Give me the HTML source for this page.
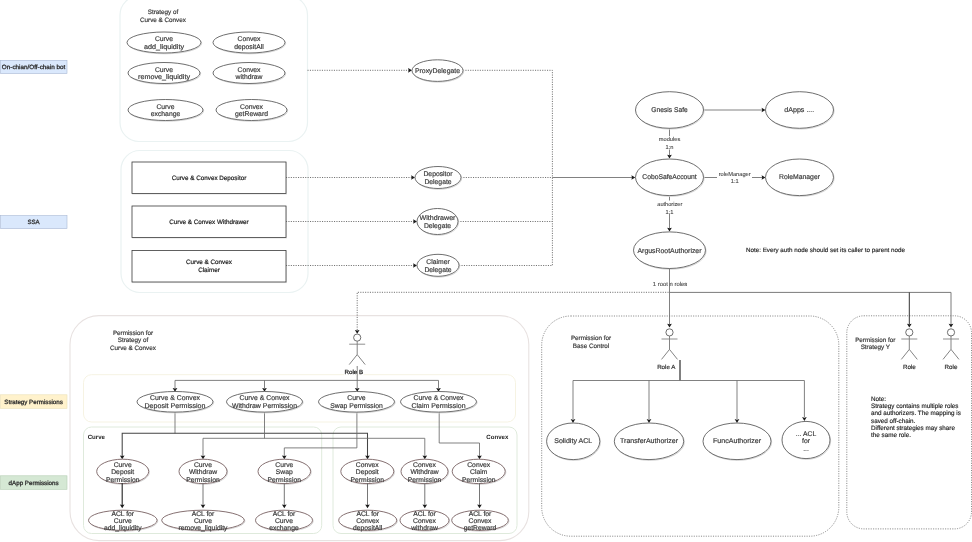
<!DOCTYPE html>
<html><head><meta charset="utf-8"><title>Diagram</title>
<style>
html,body{margin:0;padding:0;background:#fff;}
body{width:972px;height:542px;overflow:hidden;}
#wrap{width:972px;height:542px;will-change:transform;}
svg{display:block;font-family:"Liberation Sans",sans-serif;text-rendering:geometricPrecision;filter:blur(0.3px);}
</style></head><body>
<div id="wrap">
<svg width="972" height="542" viewBox="0 0 972 542">
<rect x="0.5" y="60.3" width="66.5" height="13.2" fill="#dae8fc" stroke="#a9b8d4" stroke-width="0.6"/>
<text x="33.6" y="69.1" font-size="6.1" text-anchor="middle" fill="#2c2c2c" textLength="63.5" lengthAdjust="spacingAndGlyphs" stroke="#2c2c2c" stroke-width="0.28">On-chian/Off-chain bot</text>
<rect x="0.5" y="215.6" width="66.5" height="13" fill="#dae8fc" stroke="#a9b8d4" stroke-width="0.6"/>
<text x="33.6" y="224.29999999999998" font-size="6.1" text-anchor="middle" fill="#2c2c2c" stroke="#2c2c2c" stroke-width="0.28">SSA</text>
<rect x="0.5" y="394.8" width="66.5" height="13.5" fill="#fff2cc" stroke="#ece0b4" stroke-width="0.6"/>
<text x="33.6" y="403.75" font-size="6.1" text-anchor="middle" fill="#2c2c2c" textLength="58.5" lengthAdjust="spacingAndGlyphs" stroke="#2c2c2c" stroke-width="0.28">Strategy Permissions</text>
<rect x="0.5" y="475.8" width="66.5" height="13.5" fill="#d5e8d4" stroke="#b4cdb2" stroke-width="0.6"/>
<text x="33.6" y="484.75" font-size="6.1" text-anchor="middle" fill="#2c2c2c" textLength="50" lengthAdjust="spacingAndGlyphs" stroke="#2c2c2c" stroke-width="0.28">dApp Permissions</text>
<rect x="120" y="-4" width="187.5" height="145.5" rx="19" ry="19" fill="none" stroke="#eaf2f2" stroke-width="1.2"/>
<rect x="121" y="150.5" width="187" height="142" rx="19" ry="19" fill="none" stroke="#eaf2f2" stroke-width="1.2"/>
<rect x="70" y="315.6" width="458.8" height="225" rx="29" ry="29" fill="none" stroke="#e8e2e1" stroke-width="1.1"/>
<rect x="83.5" y="374.7" width="432" height="47.3" rx="8" ry="8" fill="none" stroke="#f6f3e3" stroke-width="1"/>
<rect x="83.5" y="427" width="238.2" height="106.5" rx="8" ry="8" fill="none" stroke="#dfeadc" stroke-width="1"/>
<rect x="333" y="427" width="184" height="106.5" rx="8" ry="8" fill="none" stroke="#dfeadc" stroke-width="1"/>
<rect x="541.7" y="316.0" width="297.1" height="220.2" rx="29" ry="29" fill="none" stroke="#767676" stroke-width="0.85" stroke-dasharray="1.1 1.3"/>
<rect x="846.8" y="315.8" width="124.7" height="213.1" rx="17" ry="17" fill="none" stroke="#767676" stroke-width="0.85" stroke-dasharray="1.1 1.3"/>
<text x="163" y="14.31" font-size="6.3" text-anchor="middle" fill="#383838" stroke="#383838" stroke-width="0.18">Strategy  of</text>
<text x="163" y="21.71" font-size="6.3" text-anchor="middle" fill="#383838" stroke="#383838" stroke-width="0.18">Curve &amp; Convex</text>
<ellipse cx="164.7" cy="43.3" rx="37" ry="10.5" fill="none" stroke="#d6d6d6" stroke-width="1"/>
<ellipse cx="164" cy="42.5" rx="37" ry="10.5" fill="#fff" stroke="#555555" stroke-width="0.85"/>
<text x="164" y="41.38" font-size="6.8" text-anchor="middle" fill="#383838" stroke="#383838" stroke-width="0.18">Curve</text>
<text x="164" y="48.68" font-size="6.8" text-anchor="middle" fill="#383838" textLength="40" lengthAdjust="spacingAndGlyphs" stroke="#383838" stroke-width="0.18">add_liquidity</text>
<ellipse cx="249.7" cy="43.3" rx="36" ry="10.5" fill="none" stroke="#d6d6d6" stroke-width="1"/>
<ellipse cx="249" cy="42.5" rx="36" ry="10.5" fill="#fff" stroke="#555555" stroke-width="0.85"/>
<text x="249" y="41.38" font-size="6.8" text-anchor="middle" fill="#383838" stroke="#383838" stroke-width="0.18">Convex</text>
<text x="249" y="48.68" font-size="6.8" text-anchor="middle" fill="#383838" stroke="#383838" stroke-width="0.18">depositAll</text>
<ellipse cx="164.7" cy="73.8" rx="36" ry="10.5" fill="none" stroke="#d6d6d6" stroke-width="1"/>
<ellipse cx="164" cy="73" rx="36" ry="10.5" fill="#fff" stroke="#555555" stroke-width="0.85"/>
<text x="164" y="71.88" font-size="6.8" text-anchor="middle" fill="#383838" stroke="#383838" stroke-width="0.18">Curve</text>
<text x="164" y="79.18" font-size="6.8" text-anchor="middle" fill="#383838" textLength="52" lengthAdjust="spacingAndGlyphs" stroke="#383838" stroke-width="0.18">remove_liquidity</text>
<ellipse cx="249.7" cy="73.8" rx="36" ry="10.5" fill="none" stroke="#d6d6d6" stroke-width="1"/>
<ellipse cx="249" cy="73" rx="36" ry="10.5" fill="#fff" stroke="#555555" stroke-width="0.85"/>
<text x="249" y="71.88" font-size="6.8" text-anchor="middle" fill="#383838" stroke="#383838" stroke-width="0.18">Convex</text>
<text x="249" y="79.18" font-size="6.8" text-anchor="middle" fill="#383838" stroke="#383838" stroke-width="0.18">withdraw</text>
<ellipse cx="166.2" cy="110.8" rx="37.5" ry="10.5" fill="none" stroke="#d6d6d6" stroke-width="1"/>
<ellipse cx="165.5" cy="110" rx="37.5" ry="10.5" fill="#fff" stroke="#555555" stroke-width="0.85"/>
<text x="165.5" y="108.88" font-size="6.8" text-anchor="middle" fill="#383838" stroke="#383838" stroke-width="0.18">Curve</text>
<text x="165.5" y="116.18" font-size="6.8" text-anchor="middle" fill="#383838" stroke="#383838" stroke-width="0.18">exchange</text>
<ellipse cx="252.2" cy="110.8" rx="35.5" ry="10.5" fill="none" stroke="#d6d6d6" stroke-width="1"/>
<ellipse cx="251.5" cy="110" rx="35.5" ry="10.5" fill="#fff" stroke="#555555" stroke-width="0.85"/>
<text x="251.5" y="108.88" font-size="6.8" text-anchor="middle" fill="#383838" stroke="#383838" stroke-width="0.18">Convex</text>
<text x="251.5" y="116.18" font-size="6.8" text-anchor="middle" fill="#383838" stroke="#383838" stroke-width="0.18">getReward</text>
<rect x="132.6" y="162.7" width="154" height="31.5" fill="none" stroke="#e4e4e4" stroke-width="0.8"/>
<rect x="132" y="162" width="154" height="31.5" fill="#fff" stroke="#3a3a3a" stroke-width="0.8"/>
<text x="209" y="179.51" font-size="6.3" text-anchor="middle" fill="#222" stroke="#222" stroke-width="0.2">Curve &amp; Convex Depositor</text>
<rect x="132.6" y="206.7" width="154" height="31.5" fill="none" stroke="#e4e4e4" stroke-width="0.8"/>
<rect x="132" y="206" width="154" height="31.5" fill="#fff" stroke="#3a3a3a" stroke-width="0.8"/>
<text x="209" y="223.51" font-size="6.3" text-anchor="middle" fill="#222" stroke="#222" stroke-width="0.2">Curve &amp; Convex Withdrawer</text>
<rect x="132.6" y="251.2" width="154" height="31.5" fill="none" stroke="#e4e4e4" stroke-width="0.8"/>
<rect x="132" y="250.5" width="154" height="31.5" fill="#fff" stroke="#3a3a3a" stroke-width="0.8"/>
<text x="209" y="264.31" font-size="6.3" text-anchor="middle" fill="#222" stroke="#222" stroke-width="0.2">Curve &amp; Convex</text>
<text x="209" y="271.7" font-size="6.3" text-anchor="middle" fill="#222" stroke="#222" stroke-width="0.2">Claimer</text>
<path d="M307.5 70.3 L410 70.3" fill="none" stroke="#5a5a5a" stroke-width="0.85" stroke-dasharray="1.1 1.3"/>
<polygon points="412,70.3 408.1,67.96 408.646,70.3 408.1,72.64" fill="#1a1a1a"/>
<path d="M286 177.5 L413 177.5" fill="none" stroke="#5a5a5a" stroke-width="0.85" stroke-dasharray="1.1 1.3"/>
<polygon points="415,177.5 411.1,175.16 411.646,177.5 411.1,179.84" fill="#1a1a1a"/>
<path d="M286 221.5 L415 221.5" fill="none" stroke="#5a5a5a" stroke-width="0.85" stroke-dasharray="1.1 1.3"/>
<polygon points="417,221.5 413.1,219.16 413.646,221.5 413.1,223.84" fill="#1a1a1a"/>
<path d="M286 265.5 L415 265.5" fill="none" stroke="#5a5a5a" stroke-width="0.85" stroke-dasharray="1.1 1.3"/>
<polygon points="417,265.5 413.1,263.16 413.646,265.5 413.1,267.84" fill="#1a1a1a"/>
<path d="M463 70.3 L552.4 70.3 L552.4 265.5 L459 265.5" fill="none" stroke="#5a5a5a" stroke-width="0.85" stroke-dasharray="1.1 1.3"/>
<path d="M461 177.5 L552 177.5" fill="none" stroke="#5a5a5a" stroke-width="0.85" stroke-dasharray="1.1 1.3"/>
<path d="M458 221.5 L552 221.5" fill="none" stroke="#5a5a5a" stroke-width="0.85" stroke-dasharray="1.1 1.3"/>
<path d="M552.3 177.5 L632 177.5" fill="none" stroke="#6a6a6a" stroke-width="0.85"/>
<polygon points="635.3,177.5 631.4,175.16 631.9459999999999,177.5 631.4,179.84" fill="#1a1a1a"/>
<ellipse cx="438.2" cy="71.39999999999999" rx="25.5" ry="10.8" fill="none" stroke="#d6d6d6" stroke-width="1"/>
<ellipse cx="437.5" cy="70.6" rx="25.5" ry="10.8" fill="#fff" stroke="#555555" stroke-width="0.85"/>
<text x="437.5" y="72.78" font-size="6.8" text-anchor="middle" fill="#383838" textLength="45" lengthAdjust="spacingAndGlyphs" stroke="#383838" stroke-width="0.18">ProxyDelegate</text>
<ellipse cx="438.7" cy="178.3" rx="23" ry="11" fill="none" stroke="#d6d6d6" stroke-width="1"/>
<ellipse cx="438" cy="177.5" rx="23" ry="11" fill="#fff" stroke="#555555" stroke-width="0.85"/>
<text x="438" y="176.48" font-size="6.8" text-anchor="middle" fill="#383838" stroke="#383838" stroke-width="0.18">Depositor</text>
<text x="438" y="184.08" font-size="6.8" text-anchor="middle" fill="#383838" stroke="#383838" stroke-width="0.18">Delegate</text>
<ellipse cx="438.2" cy="222.3" rx="20.5" ry="13" fill="none" stroke="#d6d6d6" stroke-width="1"/>
<ellipse cx="437.5" cy="221.5" rx="20.5" ry="13" fill="#fff" stroke="#555555" stroke-width="0.85"/>
<text x="437.5" y="220.48" font-size="6.8" text-anchor="middle" fill="#383838" textLength="36" lengthAdjust="spacingAndGlyphs" stroke="#383838" stroke-width="0.18">Withdrawer</text>
<text x="437.5" y="228.08" font-size="6.8" text-anchor="middle" fill="#383838" stroke="#383838" stroke-width="0.18">Delegate</text>
<ellipse cx="438.7" cy="266.1" rx="21" ry="11" fill="none" stroke="#d6d6d6" stroke-width="1"/>
<ellipse cx="438" cy="265.3" rx="21" ry="11" fill="#fff" stroke="#555555" stroke-width="0.85"/>
<text x="438" y="264.28" font-size="6.8" text-anchor="middle" fill="#383838" stroke="#383838" stroke-width="0.18">Claimer</text>
<text x="438" y="271.88" font-size="6.8" text-anchor="middle" fill="#383838" stroke="#383838" stroke-width="0.18">Delegate</text>
<path d="M703.5 110 L762 110" fill="none" stroke="#6a6a6a" stroke-width="0.85"/>
<polygon points="765.5,110 761.6,107.66 762.146,110 761.6,112.34" fill="#1a1a1a"/>
<path d="M669.5 128 L669.5 155" fill="none" stroke="#6a6a6a" stroke-width="0.85"/>
<polygon points="669.5,158.6 667.16,154.7 669.5,155.24599999999998 671.84,154.7" fill="#1a1a1a"/>
<path d="M703.5 177.5 L762 177.5" fill="none" stroke="#6a6a6a" stroke-width="0.85"/>
<polygon points="765.5,177.5 761.6,175.16 762.146,177.5 761.6,179.84" fill="#1a1a1a"/>
<path d="M669.5 195.5 L669.5 228" fill="none" stroke="#6a6a6a" stroke-width="0.85"/>
<polygon points="669.5,231.6 667.16,227.7 669.5,228.24599999999998 671.84,227.7" fill="#1a1a1a"/>
<rect x="657" y="136" width="25" height="13.5" fill="#fff"/>
<rect x="717" y="171.5" width="35" height="6.5" fill="#fff"/>
<rect x="655" y="200.5" width="29" height="13.5" fill="#fff"/>
<text x="669.5" y="141.2" font-size="5.7" text-anchor="middle" fill="#4a4a4a" stroke="#4a4a4a" stroke-width="0.12">modules</text>
<text x="669.5" y="148.7" font-size="5.7" text-anchor="middle" fill="#4a4a4a" stroke="#4a4a4a" stroke-width="0.12">1:n</text>
<text x="734.7" y="176.3" font-size="5.7" text-anchor="middle" fill="#4a4a4a" textLength="32" lengthAdjust="spacingAndGlyphs" stroke="#4a4a4a" stroke-width="0.12">roleManager</text>
<text x="734.7" y="183.4" font-size="5.7" text-anchor="middle" fill="#4a4a4a" stroke="#4a4a4a" stroke-width="0.12">1:1</text>
<text x="669.8" y="206.2" font-size="5.7" text-anchor="middle" fill="#4a4a4a" textLength="25" lengthAdjust="spacingAndGlyphs" stroke="#4a4a4a" stroke-width="0.12">authorizer</text>
<text x="669.5" y="213.6" font-size="5.7" text-anchor="middle" fill="#4a4a4a" stroke="#4a4a4a" stroke-width="0.12">1:1</text>
<ellipse cx="670.2" cy="110.8" rx="34" ry="18.3" fill="none" stroke="#d6d6d6" stroke-width="1"/>
<ellipse cx="669.5" cy="110" rx="34" ry="18.3" fill="#fff" stroke="#555555" stroke-width="0.85"/>
<text x="669.5" y="112.12" font-size="6.9" text-anchor="middle" fill="#383838" textLength="36.5" lengthAdjust="spacingAndGlyphs" stroke="#383838" stroke-width="0.18">Gnesis Safe</text>
<ellipse cx="800.2" cy="110.8" rx="34" ry="18.3" fill="none" stroke="#d6d6d6" stroke-width="1"/>
<ellipse cx="799.5" cy="110" rx="34" ry="18.3" fill="#fff" stroke="#555555" stroke-width="0.85"/>
<text x="799.3" y="112.12" font-size="6.9" text-anchor="middle" fill="#383838" textLength="30" lengthAdjust="spacingAndGlyphs" stroke="#383838" stroke-width="0.18">dApps ....</text>
<ellipse cx="670.2" cy="178.10000000000002" rx="34" ry="18.3" fill="none" stroke="#d6d6d6" stroke-width="1"/>
<ellipse cx="669.5" cy="177.3" rx="34" ry="18.3" fill="#fff" stroke="#555555" stroke-width="0.85"/>
<text x="669.5" y="179.41" font-size="6.9" text-anchor="middle" fill="#383838" textLength="54.5" lengthAdjust="spacingAndGlyphs" stroke="#383838" stroke-width="0.18">CoboSafeAccount</text>
<ellipse cx="800.2" cy="178.10000000000002" rx="34" ry="18.3" fill="none" stroke="#d6d6d6" stroke-width="1"/>
<ellipse cx="799.5" cy="177.3" rx="34" ry="18.3" fill="#fff" stroke="#555555" stroke-width="0.85"/>
<text x="799.5" y="179.41" font-size="6.9" text-anchor="middle" fill="#383838" textLength="41" lengthAdjust="spacingAndGlyphs" stroke="#383838" stroke-width="0.18">RoleManager</text>
<ellipse cx="670.2" cy="251.0" rx="36" ry="18.3" fill="none" stroke="#d6d6d6" stroke-width="1"/>
<ellipse cx="669.5" cy="250.2" rx="36" ry="18.3" fill="#fff" stroke="#555555" stroke-width="0.85"/>
<text x="669.5" y="252.81" font-size="6.9" text-anchor="middle" fill="#383838" textLength="64" lengthAdjust="spacingAndGlyphs" stroke="#383838" stroke-width="0.18">ArgusRootAuthorizer</text>
<text x="746" y="252.0" font-size="6.2" text-anchor="start" fill="#2c2c2c" textLength="159" lengthAdjust="spacingAndGlyphs" stroke="#2c2c2c" stroke-width="0.18">Note: Every auth node should set its caller to parent node</text>
<path d="M357.2 330 L357.2 292.3 L669.5 292.3" fill="none" stroke="#5a5a5a" stroke-width="0.85" stroke-dasharray="1.1 1.3"/>
<polygon points="357.2,333.8 354.86,329.90000000000003 357.2,330.446 359.53999999999996,329.90000000000003" fill="#1a1a1a"/>
<path d="M669.5 268.5 L669.5 324" fill="none" stroke="#6a6a6a" stroke-width="0.85"/>
<polygon points="669.5,327.6 667.16,323.70000000000005 669.5,324.24600000000004 671.84,323.70000000000005" fill="#1a1a1a"/>
<path d="M669.5 292.4 L951 292.4 L951 324" fill="none" stroke="#7a7a7a" stroke-width="1.0"/>
<polygon points="951,327.6 948.66,323.70000000000005 951,324.24600000000004 953.34,323.70000000000005" fill="#1a1a1a"/>
<path d="M909.3 292.4 L909.3 324" fill="none" stroke="#333" stroke-width="1.0"/>
<polygon points="909.3,327.6 906.9599999999999,323.70000000000005 909.3,324.24600000000004 911.64,323.70000000000005" fill="#1a1a1a"/>
<rect x="652" y="280" width="16.6" height="8" fill="#fff"/>
<rect x="670.6" y="280" width="17.5" height="8" fill="#fff"/>
<text x="670" y="286.3" font-size="5.8" text-anchor="middle" fill="#4a4a4a" textLength="34.5" lengthAdjust="spacingAndGlyphs" stroke="#4a4a4a" stroke-width="0.12">1 root n roles</text>
<text x="133" y="335.0" font-size="6.3" text-anchor="middle" fill="#383838" stroke="#383838" stroke-width="0.18">Permission for</text>
<text x="133" y="342.4" font-size="6.3" text-anchor="middle" fill="#383838" stroke="#383838" stroke-width="0.18">Strategy of</text>
<text x="133" y="349.81" font-size="6.3" text-anchor="middle" fill="#383838" stroke="#383838" stroke-width="0.18">Curve &amp; Convex</text>
<circle cx="357.2" cy="337.6" r="3.6" fill="#fff" stroke="#555" stroke-width="0.85"/>
<path d="M357.2 341.20000000000005 L357.2 354.6" fill="none" stroke="#6e6e6e" stroke-width="0.85"/>
<path d="M349.2 344.20000000000005 L365.2 344.20000000000005" fill="none" stroke="#7c7c7c" stroke-width="0.85"/>
<path d="M349.2 364.6 L357.2 354.6 L365.2 364.6" fill="none" stroke="#6e6e6e" stroke-width="0.85"/>
<path d="M357.2 366 L357.2 388" fill="none" stroke="#6a6a6a" stroke-width="0.85"/>
<path d="M175 388 L175 380.4 L438.5 380.4 L438.5 388" fill="none" stroke="#6a6a6a" stroke-width="0.85"/>
<path d="M264.5 380.4 L264.5 388" fill="none" stroke="#6a6a6a" stroke-width="0.85"/>
<polygon points="175,391.8 172.66,387.90000000000003 175,388.446 177.34,387.90000000000003" fill="#1a1a1a"/>
<polygon points="264.5,391.8 262.16,387.90000000000003 264.5,388.446 266.84,387.90000000000003" fill="#1a1a1a"/>
<polygon points="357.2,391.8 354.86,387.90000000000003 357.2,388.446 359.53999999999996,387.90000000000003" fill="#1a1a1a"/>
<polygon points="438.5,391.8 436.16,387.90000000000003 438.5,388.446 440.84,387.90000000000003" fill="#1a1a1a"/>
<rect x="344" y="368.3" width="12.4" height="7" fill="#fff"/>
<rect x="358.1" y="368.3" width="5.5" height="7" fill="#fff"/>
<text x="353.8" y="374.2" font-size="6.0" text-anchor="middle" fill="#222" textLength="18.6" lengthAdjust="spacingAndGlyphs" stroke="#222" stroke-width="0.25">Role B</text>
<path d="M175 412 L175 433.4" fill="none" stroke="#6a6a6a" stroke-width="0.85"/>
<path d="M122.2 456 L122.2 433.3 L367.5 433.3 L367.5 456" fill="none" stroke="#444" stroke-width="1.05"/>
<path d="M264.5 412 L264.5 438.4" fill="none" stroke="#6a6a6a" stroke-width="0.85"/>
<path d="M203 456 L203 438.3 L424.8 438.3 L424.8 456" fill="none" stroke="#6a6a6a" stroke-width="0.85"/>
<path d="M356.9 412 L356.9 447.9 L284.3 447.9 L284.3 456" fill="none" stroke="#6a6a6a" stroke-width="0.85"/>
<path d="M439.2 412 L439.2 443 L479.5 443 L479.5 456" fill="none" stroke="#6a6a6a" stroke-width="0.85"/>
<polygon points="122.2,459.3 119.86,455.40000000000003 122.2,455.946 124.54,455.40000000000003" fill="#1a1a1a"/>
<polygon points="203,459.3 200.66,455.40000000000003 203,455.946 205.34,455.40000000000003" fill="#1a1a1a"/>
<polygon points="284.3,459.3 281.96000000000004,455.40000000000003 284.3,455.946 286.64,455.40000000000003" fill="#1a1a1a"/>
<polygon points="367.5,459.3 365.16,455.40000000000003 367.5,455.946 369.84,455.40000000000003" fill="#1a1a1a"/>
<polygon points="424.8,459.3 422.46000000000004,455.40000000000003 424.8,455.946 427.14,455.40000000000003" fill="#1a1a1a"/>
<polygon points="479.5,459.3 477.16,455.40000000000003 479.5,455.946 481.84,455.40000000000003" fill="#1a1a1a"/>
<ellipse cx="175.7" cy="402.6" rx="38" ry="10.3" fill="none" stroke="#d6d6d6" stroke-width="1"/>
<ellipse cx="175" cy="401.8" rx="38" ry="10.3" fill="#fff" stroke="#555555" stroke-width="0.85"/>
<text x="175" y="399.67" font-size="6.9" text-anchor="middle" fill="#383838" textLength="50" lengthAdjust="spacingAndGlyphs" stroke="#383838" stroke-width="0.18">Curve &amp; Convex</text>
<text x="175" y="407.67" font-size="6.9" text-anchor="middle" fill="#383838" textLength="61" lengthAdjust="spacingAndGlyphs" stroke="#383838" stroke-width="0.18">Deposit Permission</text>
<ellipse cx="265.2" cy="402.6" rx="38" ry="10.3" fill="none" stroke="#d6d6d6" stroke-width="1"/>
<ellipse cx="264.5" cy="401.8" rx="38" ry="10.3" fill="#fff" stroke="#555555" stroke-width="0.85"/>
<text x="264.5" y="399.67" font-size="6.9" text-anchor="middle" fill="#383838" textLength="50" lengthAdjust="spacingAndGlyphs" stroke="#383838" stroke-width="0.18">Curve &amp; Convex</text>
<text x="264.5" y="407.67" font-size="6.9" text-anchor="middle" fill="#383838" textLength="65" lengthAdjust="spacingAndGlyphs" stroke="#383838" stroke-width="0.18">Withdraw Permission</text>
<ellipse cx="357.2" cy="402.6" rx="38" ry="10.3" fill="none" stroke="#d6d6d6" stroke-width="1"/>
<ellipse cx="356.5" cy="401.8" rx="38" ry="10.3" fill="#fff" stroke="#555555" stroke-width="0.85"/>
<text x="356.5" y="399.67" font-size="6.9" text-anchor="middle" fill="#383838" stroke="#383838" stroke-width="0.18">Curve</text>
<text x="356.5" y="407.67" font-size="6.9" text-anchor="middle" fill="#383838" textLength="52.5" lengthAdjust="spacingAndGlyphs" stroke="#383838" stroke-width="0.18">Swap Permission</text>
<ellipse cx="439.2" cy="402.6" rx="38" ry="10.3" fill="none" stroke="#d6d6d6" stroke-width="1"/>
<ellipse cx="438.5" cy="401.8" rx="38" ry="10.3" fill="#fff" stroke="#555555" stroke-width="0.85"/>
<text x="438.5" y="399.67" font-size="6.9" text-anchor="middle" fill="#383838" textLength="50" lengthAdjust="spacingAndGlyphs" stroke="#383838" stroke-width="0.18">Curve &amp; Convex</text>
<text x="438.5" y="407.67" font-size="6.9" text-anchor="middle" fill="#383838" textLength="54" lengthAdjust="spacingAndGlyphs" stroke="#383838" stroke-width="0.18">Claim Permission</text>
<text x="87.7" y="438.8" font-size="6.1" text-anchor="start" fill="#222" font-weight="bold">Curve</text>
<text x="508.3" y="438.8" font-size="6.1" text-anchor="end" fill="#222" font-weight="bold">Convex</text>
<ellipse cx="123.4" cy="472.2" rx="26" ry="12.2" fill="none" stroke="#d6d6d6" stroke-width="1"/>
<ellipse cx="122.7" cy="471.4" rx="26" ry="12.2" fill="#fff" stroke="#80696a" stroke-width="0.95"/>
<text x="122.7" y="466.81" font-size="6.75" text-anchor="middle" fill="#383838" stroke="#383838" stroke-width="0.18">Curve</text>
<text x="122.7" y="474.16" font-size="6.75" text-anchor="middle" fill="#383838" stroke="#383838" stroke-width="0.18">Deposit</text>
<text x="122.7" y="481.51" font-size="6.75" text-anchor="middle" fill="#383838" stroke="#383838" stroke-width="0.18">Permission</text>
<ellipse cx="203.7" cy="472.2" rx="24" ry="12.2" fill="none" stroke="#d6d6d6" stroke-width="1"/>
<ellipse cx="203" cy="471.4" rx="24" ry="12.2" fill="#fff" stroke="#80696a" stroke-width="0.95"/>
<text x="203" y="466.81" font-size="6.75" text-anchor="middle" fill="#383838" stroke="#383838" stroke-width="0.18">Curve</text>
<text x="203" y="474.16" font-size="6.75" text-anchor="middle" fill="#383838" stroke="#383838" stroke-width="0.18">Withdraw</text>
<text x="203" y="481.51" font-size="6.75" text-anchor="middle" fill="#383838" stroke="#383838" stroke-width="0.18">Permission</text>
<ellipse cx="285.0" cy="472.2" rx="26.3" ry="12.2" fill="none" stroke="#d6d6d6" stroke-width="1"/>
<ellipse cx="284.3" cy="471.4" rx="26.3" ry="12.2" fill="#fff" stroke="#80696a" stroke-width="0.95"/>
<text x="284.3" y="466.81" font-size="6.75" text-anchor="middle" fill="#383838" stroke="#383838" stroke-width="0.18">Curve</text>
<text x="284.3" y="474.16" font-size="6.75" text-anchor="middle" fill="#383838" stroke="#383838" stroke-width="0.18">Swap</text>
<text x="284.3" y="481.51" font-size="6.75" text-anchor="middle" fill="#383838" stroke="#383838" stroke-width="0.18">Permission</text>
<ellipse cx="368.0" cy="472.2" rx="26.5" ry="12.2" fill="none" stroke="#d6d6d6" stroke-width="1"/>
<ellipse cx="367.3" cy="471.4" rx="26.5" ry="12.2" fill="#fff" stroke="#80696a" stroke-width="0.95"/>
<text x="367.3" y="466.81" font-size="6.75" text-anchor="middle" fill="#383838" stroke="#383838" stroke-width="0.18">Convex</text>
<text x="367.3" y="474.16" font-size="6.75" text-anchor="middle" fill="#383838" stroke="#383838" stroke-width="0.18">Deposit</text>
<text x="367.3" y="481.51" font-size="6.75" text-anchor="middle" fill="#383838" stroke="#383838" stroke-width="0.18">Permission</text>
<ellipse cx="425.2" cy="472.2" rx="23.5" ry="12.2" fill="none" stroke="#d6d6d6" stroke-width="1"/>
<ellipse cx="424.5" cy="471.4" rx="23.5" ry="12.2" fill="#fff" stroke="#80696a" stroke-width="0.95"/>
<text x="424.5" y="466.81" font-size="6.75" text-anchor="middle" fill="#383838" stroke="#383838" stroke-width="0.18">Convex</text>
<text x="424.5" y="474.16" font-size="6.75" text-anchor="middle" fill="#383838" stroke="#383838" stroke-width="0.18">Withdraw</text>
<text x="424.5" y="481.51" font-size="6.75" text-anchor="middle" fill="#383838" stroke="#383838" stroke-width="0.18">Permission</text>
<ellipse cx="479.4" cy="472.2" rx="26.5" ry="12.2" fill="none" stroke="#d6d6d6" stroke-width="1"/>
<ellipse cx="478.7" cy="471.4" rx="26.5" ry="12.2" fill="#fff" stroke="#80696a" stroke-width="0.95"/>
<text x="478.7" y="466.81" font-size="6.75" text-anchor="middle" fill="#383838" stroke="#383838" stroke-width="0.18">Convex</text>
<text x="478.7" y="474.16" font-size="6.75" text-anchor="middle" fill="#383838" stroke="#383838" stroke-width="0.18">Claim</text>
<text x="478.7" y="481.51" font-size="6.75" text-anchor="middle" fill="#383838" stroke="#383838" stroke-width="0.18">Permission</text>
<path d="M122.2 483 L122.2 505" fill="none" stroke="#2a2a2a" stroke-width="1.15"/>
<polygon points="122.2,508.3 119.86,504.40000000000003 122.2,504.946 124.54,504.40000000000003" fill="#1a1a1a"/>
<path d="M203 483 L203 505" fill="none" stroke="#666" stroke-width="0.9"/>
<polygon points="203,508.3 200.66,504.40000000000003 203,504.946 205.34,504.40000000000003" fill="#1a1a1a"/>
<path d="M284.3 483 L284.3 505" fill="none" stroke="#666" stroke-width="0.9"/>
<polygon points="284.3,508.3 281.96000000000004,504.40000000000003 284.3,504.946 286.64,504.40000000000003" fill="#1a1a1a"/>
<path d="M367.5 483 L367.5 505" fill="none" stroke="#666" stroke-width="0.9"/>
<polygon points="367.5,508.3 365.16,504.40000000000003 367.5,504.946 369.84,504.40000000000003" fill="#1a1a1a"/>
<path d="M424.8 483 L424.8 505" fill="none" stroke="#666" stroke-width="0.9"/>
<polygon points="424.8,508.3 422.46000000000004,504.40000000000003 424.8,504.946 427.14,504.40000000000003" fill="#1a1a1a"/>
<path d="M479.5 483 L479.5 505" fill="none" stroke="#666" stroke-width="0.9"/>
<polygon points="479.5,508.3 477.16,504.40000000000003 479.5,504.946 481.84,504.40000000000003" fill="#1a1a1a"/>
<ellipse cx="123.5" cy="521.0999999999999" rx="34.3" ry="10.1" fill="none" stroke="#d6d6d6" stroke-width="1"/>
<ellipse cx="122.8" cy="520.3" rx="34.3" ry="10.1" fill="#fff" stroke="#80696a" stroke-width="0.95"/>
<text x="122.8" y="515.56" font-size="6.75" text-anchor="middle" fill="#383838" stroke="#383838" stroke-width="0.18">ACL for</text>
<text x="122.8" y="522.66" font-size="6.75" text-anchor="middle" fill="#383838" stroke="#383838" stroke-width="0.18">Curve</text>
<text x="122.8" y="529.76" font-size="6.75" text-anchor="middle" fill="#383838" stroke="#383838" stroke-width="0.18">add_liquidity</text>
<ellipse cx="203.7" cy="521.0999999999999" rx="41.3" ry="10.1" fill="none" stroke="#d6d6d6" stroke-width="1"/>
<ellipse cx="203" cy="520.3" rx="41.3" ry="10.1" fill="#fff" stroke="#80696a" stroke-width="0.95"/>
<text x="203" y="515.56" font-size="6.75" text-anchor="middle" fill="#383838" stroke="#383838" stroke-width="0.18">ACL for</text>
<text x="203" y="522.66" font-size="6.75" text-anchor="middle" fill="#383838" stroke="#383838" stroke-width="0.18">Curve</text>
<text x="203" y="529.76" font-size="6.75" text-anchor="middle" fill="#383838" stroke="#383838" stroke-width="0.18">remove_liquidity</text>
<ellipse cx="284.7" cy="521.0999999999999" rx="28.5" ry="10.1" fill="none" stroke="#d6d6d6" stroke-width="1"/>
<ellipse cx="284" cy="520.3" rx="28.5" ry="10.1" fill="#fff" stroke="#80696a" stroke-width="0.95"/>
<text x="284" y="515.56" font-size="6.75" text-anchor="middle" fill="#383838" stroke="#383838" stroke-width="0.18">ACL for</text>
<text x="284" y="522.66" font-size="6.75" text-anchor="middle" fill="#383838" stroke="#383838" stroke-width="0.18">Curve</text>
<text x="284" y="529.76" font-size="6.75" text-anchor="middle" fill="#383838" stroke="#383838" stroke-width="0.18">exchange</text>
<ellipse cx="368.4" cy="521.0999999999999" rx="29" ry="10.1" fill="none" stroke="#d6d6d6" stroke-width="1"/>
<ellipse cx="367.7" cy="520.3" rx="29" ry="10.1" fill="#fff" stroke="#80696a" stroke-width="0.95"/>
<text x="367.7" y="515.56" font-size="6.75" text-anchor="middle" fill="#383838" stroke="#383838" stroke-width="0.18">ACL for</text>
<text x="367.7" y="522.66" font-size="6.75" text-anchor="middle" fill="#383838" stroke="#383838" stroke-width="0.18">Convex</text>
<text x="367.7" y="529.76" font-size="6.75" text-anchor="middle" fill="#383838" stroke="#383838" stroke-width="0.18">depositAll</text>
<ellipse cx="425.2" cy="521.0999999999999" rx="24.5" ry="10.1" fill="none" stroke="#d6d6d6" stroke-width="1"/>
<ellipse cx="424.5" cy="520.3" rx="24.5" ry="10.1" fill="#fff" stroke="#80696a" stroke-width="0.95"/>
<text x="424.5" y="515.56" font-size="6.75" text-anchor="middle" fill="#383838" stroke="#383838" stroke-width="0.18">ACL for</text>
<text x="424.5" y="522.66" font-size="6.75" text-anchor="middle" fill="#383838" stroke="#383838" stroke-width="0.18">Convex</text>
<text x="424.5" y="529.76" font-size="6.75" text-anchor="middle" fill="#383838" stroke="#383838" stroke-width="0.18">withdraw</text>
<ellipse cx="480.7" cy="521.0999999999999" rx="28.3" ry="10.1" fill="none" stroke="#d6d6d6" stroke-width="1"/>
<ellipse cx="480" cy="520.3" rx="28.3" ry="10.1" fill="#fff" stroke="#80696a" stroke-width="0.95"/>
<text x="480" y="515.56" font-size="6.75" text-anchor="middle" fill="#383838" stroke="#383838" stroke-width="0.18">ACL for</text>
<text x="480" y="522.66" font-size="6.75" text-anchor="middle" fill="#383838" stroke="#383838" stroke-width="0.18">Convex</text>
<text x="480" y="529.76" font-size="6.75" text-anchor="middle" fill="#383838" stroke="#383838" stroke-width="0.18">getReward</text>
<text x="591" y="340.15" font-size="6.3" text-anchor="middle" fill="#383838" stroke="#383838" stroke-width="0.18">Permission for</text>
<text x="591" y="347.65" font-size="6.3" text-anchor="middle" fill="#383838" stroke="#383838" stroke-width="0.18">Base Control</text>
<circle cx="669.5" cy="332.4" r="3.6" fill="#fff" stroke="#555" stroke-width="0.85"/>
<path d="M669.5 336.0 L669.5 349.4" fill="none" stroke="#6e6e6e" stroke-width="0.85"/>
<path d="M661.5 339.0 L677.5 339.0" fill="none" stroke="#7c7c7c" stroke-width="0.85"/>
<path d="M661.5 359.4 L669.5 349.4 L677.5 359.4" fill="none" stroke="#6e6e6e" stroke-width="0.85"/>
<text x="666.3" y="368.7" font-size="6.0" text-anchor="middle" fill="#2c2c2c" textLength="18.3" lengthAdjust="spacingAndGlyphs" stroke="#2c2c2c" stroke-width="0.18">Role A</text>
<path d="M680 360 L680 380.5" fill="none" stroke="#3c3c3c" stroke-width="1.3"/>
<path d="M573 419 L573 380.5 L804.4 380.5 L804.4 417" fill="none" stroke="#6a6a6a" stroke-width="0.85"/>
<path d="M649 380.5 L649 419" fill="none" stroke="#6a6a6a" stroke-width="0.85"/>
<path d="M737 380.5 L737 419" fill="none" stroke="#6a6a6a" stroke-width="0.85"/>
<polygon points="573,423 570.66,419.1 573,419.646 575.34,419.1" fill="#1a1a1a"/>
<polygon points="649,423 646.66,419.1 649,419.646 651.34,419.1" fill="#1a1a1a"/>
<polygon points="737,423 734.66,419.1 737,419.646 739.34,419.1" fill="#1a1a1a"/>
<polygon points="804.4,421 802.06,417.1 804.4,417.646 806.74,417.1" fill="#1a1a1a"/>
<ellipse cx="573.9000000000001" cy="442.1" rx="26.6" ry="18.3" fill="none" stroke="#d6d6d6" stroke-width="1"/>
<ellipse cx="573.2" cy="441.3" rx="26.6" ry="18.3" fill="#fff" stroke="#555555" stroke-width="0.85"/>
<text x="573.2" y="443.12" font-size="6.9" text-anchor="middle" fill="#383838" textLength="38" lengthAdjust="spacingAndGlyphs" stroke="#383838" stroke-width="0.18">Solidity ACL</text>
<ellipse cx="649.7" cy="442.1" rx="34.7" ry="18.3" fill="none" stroke="#d6d6d6" stroke-width="1"/>
<ellipse cx="649" cy="441.3" rx="34.7" ry="18.3" fill="#fff" stroke="#555555" stroke-width="0.85"/>
<text x="649" y="443.12" font-size="6.9" text-anchor="middle" fill="#383838" textLength="58" lengthAdjust="spacingAndGlyphs" stroke="#383838" stroke-width="0.18">TransferAuthorizer</text>
<ellipse cx="737.7" cy="442.1" rx="34" ry="18.3" fill="none" stroke="#d6d6d6" stroke-width="1"/>
<ellipse cx="737" cy="441.3" rx="34" ry="18.3" fill="#fff" stroke="#555555" stroke-width="0.85"/>
<text x="737" y="443.12" font-size="6.9" text-anchor="middle" fill="#383838" textLength="48" lengthAdjust="spacingAndGlyphs" stroke="#383838" stroke-width="0.18">FuncAuthorizer</text>
<ellipse cx="806.7" cy="440.8" rx="24" ry="18.6" fill="none" stroke="#d6d6d6" stroke-width="1"/>
<ellipse cx="806" cy="440.0" rx="24" ry="18.6" fill="#fff" stroke="#555555" stroke-width="0.85"/>
<text x="806" y="435.58" font-size="6.8" text-anchor="middle" fill="#383838" stroke="#383838" stroke-width="0.18">... ACL</text>
<text x="806" y="443.18" font-size="6.8" text-anchor="middle" fill="#383838" stroke="#383838" stroke-width="0.18">for</text>
<text x="806" y="450.78" font-size="6.8" text-anchor="middle" fill="#383838" stroke="#383838" stroke-width="0.18">...</text>
<text x="875.3" y="341.65" font-size="6.3" text-anchor="middle" fill="#383838" stroke="#383838" stroke-width="0.18">Permission for</text>
<text x="875.3" y="349.15" font-size="6.3" text-anchor="middle" fill="#383838" stroke="#383838" stroke-width="0.18">Strategy Y</text>
<circle cx="909.3" cy="332.4" r="3.6" fill="#fff" stroke="#555" stroke-width="0.85"/>
<path d="M909.3 336.0 L909.3 349.4" fill="none" stroke="#6e6e6e" stroke-width="0.85"/>
<path d="M901.3 339.0 L917.3 339.0" fill="none" stroke="#7c7c7c" stroke-width="0.85"/>
<path d="M901.3 359.4 L909.3 349.4 L917.3 359.4" fill="none" stroke="#6e6e6e" stroke-width="0.85"/>
<circle cx="951" cy="332.4" r="3.6" fill="#fff" stroke="#555" stroke-width="0.85"/>
<path d="M951 336.0 L951 349.4" fill="none" stroke="#6e6e6e" stroke-width="0.85"/>
<path d="M943 339.0 L959 339.0" fill="none" stroke="#7c7c7c" stroke-width="0.85"/>
<path d="M943 359.4 L951 349.4 L959 359.4" fill="none" stroke="#6e6e6e" stroke-width="0.85"/>
<text x="909.3" y="368.7" font-size="6.2" text-anchor="middle" fill="#2c2c2c" textLength="12.8" lengthAdjust="spacingAndGlyphs" stroke="#2c2c2c" stroke-width="0.18">Role</text>
<text x="951" y="368.7" font-size="6.2" text-anchor="middle" fill="#2c2c2c" textLength="12.8" lengthAdjust="spacingAndGlyphs" stroke="#2c2c2c" stroke-width="0.18">Role</text>
<text x="871" y="400.5" font-size="6.3" text-anchor="start" fill="#1c1c1c" stroke="#1c1c1c" stroke-width="0.15">Note:</text>
<text x="871" y="407.85" font-size="6.3" text-anchor="start" fill="#1c1c1c" stroke="#1c1c1c" stroke-width="0.15">Strategy contains multiple roles</text>
<text x="871" y="415.2" font-size="6.3" text-anchor="start" fill="#1c1c1c" stroke="#1c1c1c" stroke-width="0.15">and authorizers. The mapping is</text>
<text x="871" y="422.55" font-size="6.3" text-anchor="start" fill="#1c1c1c" stroke="#1c1c1c" stroke-width="0.15">saved off-chain.</text>
<text x="871" y="429.9" font-size="6.3" text-anchor="start" fill="#1c1c1c" stroke="#1c1c1c" stroke-width="0.15">Different strategies may share</text>
<text x="871" y="437.25" font-size="6.3" text-anchor="start" fill="#1c1c1c" stroke="#1c1c1c" stroke-width="0.15">the same role.</text>
</svg>
</div>
</body></html>
